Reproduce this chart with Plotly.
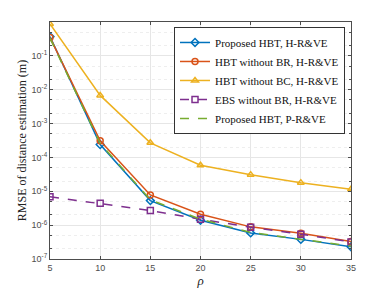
import plotly.graph_objects as go

rho = [5, 10, 15, 20, 25, 30, 35]
proposed_h = [0.37, 2.4e-4, 5.3e-6, 1.4e-6, 5.9e-7, 3.8e-7, 2.3e-7]
without_br_h = [0.35, 3.1e-4, 7.8e-6, 2.1e-6, 8.9e-7, 5.8e-7, 3.3e-7]
without_bc_h = [0.87, 6.8e-3, 2.7e-4, 5.9e-5, 3.1e-5, 1.8e-5, 1.15e-5]
ebs_without_br_h = [6.9e-6, 4.4e-6, 2.7e-6, 1.5e-6, 8.7e-7, 5.4e-7, 3.2e-7]
proposed_p = [0.33, 2.6e-4, 5.6e-6, 1.5e-6, 6.1e-7, 3.9e-7, 2.4e-7]

names = ["Proposed HBT, H-R&VE", "HBT without BR, H-R&VE", "HBT without BC, H-R&VE",
         "EBS without BR, H-R&VE", "Proposed HBT, P-R&VE"]
ytick_vals = [1e-7, 1e-6, 1e-5, 1e-4, 1e-3, 1e-2, 1e-1]
ytick_text = ["10<sup>-7</sup>", "10<sup>-6</sup>", "10<sup>-5</sup>", "10<sup>-4</sup>",
              "10<sup>-3</sup>", "10<sup>-2</sup>", "10<sup>-1</sup>"]

SERIF = "Liberation Serif, Times New Roman, DejaVu Serif, serif"
SANS = "Liberation Sans, Arial, sans-serif"

fig = go.Figure()
specs = [
    (proposed_h, "#0072BD", "diamond-open", "solid", "lines+markers"),
    (without_br_h, "#D95319", "circle-open", "solid", "lines+markers"),
    (without_bc_h, "#EDB120", "triangle-up-open", "solid", "lines+markers"),
    (ebs_without_br_h, "#7E2F8E", "square-open", "dash", "lines+markers"),
    (proposed_p, "#77AC30", "circle", "dash", "lines"),
]
for (vals, col, sym, dash, mode), nm in zip(specs, names):
    fig.add_trace(go.Scatter(
        x=rho, y=vals, name=nm, mode=mode,
        line=dict(color=col, width=1.5, dash=dash),
        marker=dict(symbol=sym, size=6, color=col, line=dict(color=col, width=1.5)),
    ))

fig.update_layout(
    width=388, height=292,
    margin=dict(l=50, r=37, t=22, b=33, autoexpand=False),
    paper_bgcolor="white", plot_bgcolor="white",
    showlegend=True,
    legend=dict(x=0.412, y=0.979, xanchor="left", yanchor="top",
                bgcolor="white", bordercolor="#333333", borderwidth=1,
                font=dict(family=SERIF, size=11, color="#111"),
                tracegroupgap=0, itemwidth=30),
    font=dict(family=SANS, size=9, color="#4d4d4d"),
)
fig.update_xaxes(
    range=[5, 35], tickvals=[5, 10, 15, 20, 25, 30, 35],
    ticks="inside", ticklen=3, tickcolor="#4d4d4d",
    showline=True, linecolor="#4d4d4d", linewidth=1, mirror="ticks",
    showgrid=True, gridcolor="#e6e6e6", gridwidth=1, zeroline=False,
    automargin=False,
    tickfont=dict(family=SANS, size=9, color="#4d4d4d"),
    title=dict(text="<i>ρ</i>", font=dict(family=SERIF, size=13, color="#222"), standoff=4),
)
fig.update_yaxes(
    type="log", range=[-7, 0], tickvals=ytick_vals, ticktext=ytick_text,
    ticks="inside", ticklen=3, tickcolor="#4d4d4d",
    showline=True, linecolor="#4d4d4d", linewidth=1, mirror="ticks",
    showgrid=True, gridcolor="#e6e6e6", gridwidth=1, zeroline=False,
    automargin=False,
    minor=dict(ticks="inside", ticklen=2, tickcolor="#4d4d4d", showgrid=True,
               gridcolor="#eeeeee", griddash="dot"),
    tickfont=dict(family=SANS, size=9, color="#4d4d4d"),
    title=dict(text="RMSE of distance estimation (m)",
               font=dict(family=SERIF, size=12, color="#222"), standoff=2),
)
fig.write_html("out.html", config={"displayModeBar": False},
               post_script="document.body.style.margin='0';document.body.style.overflow='hidden';")
